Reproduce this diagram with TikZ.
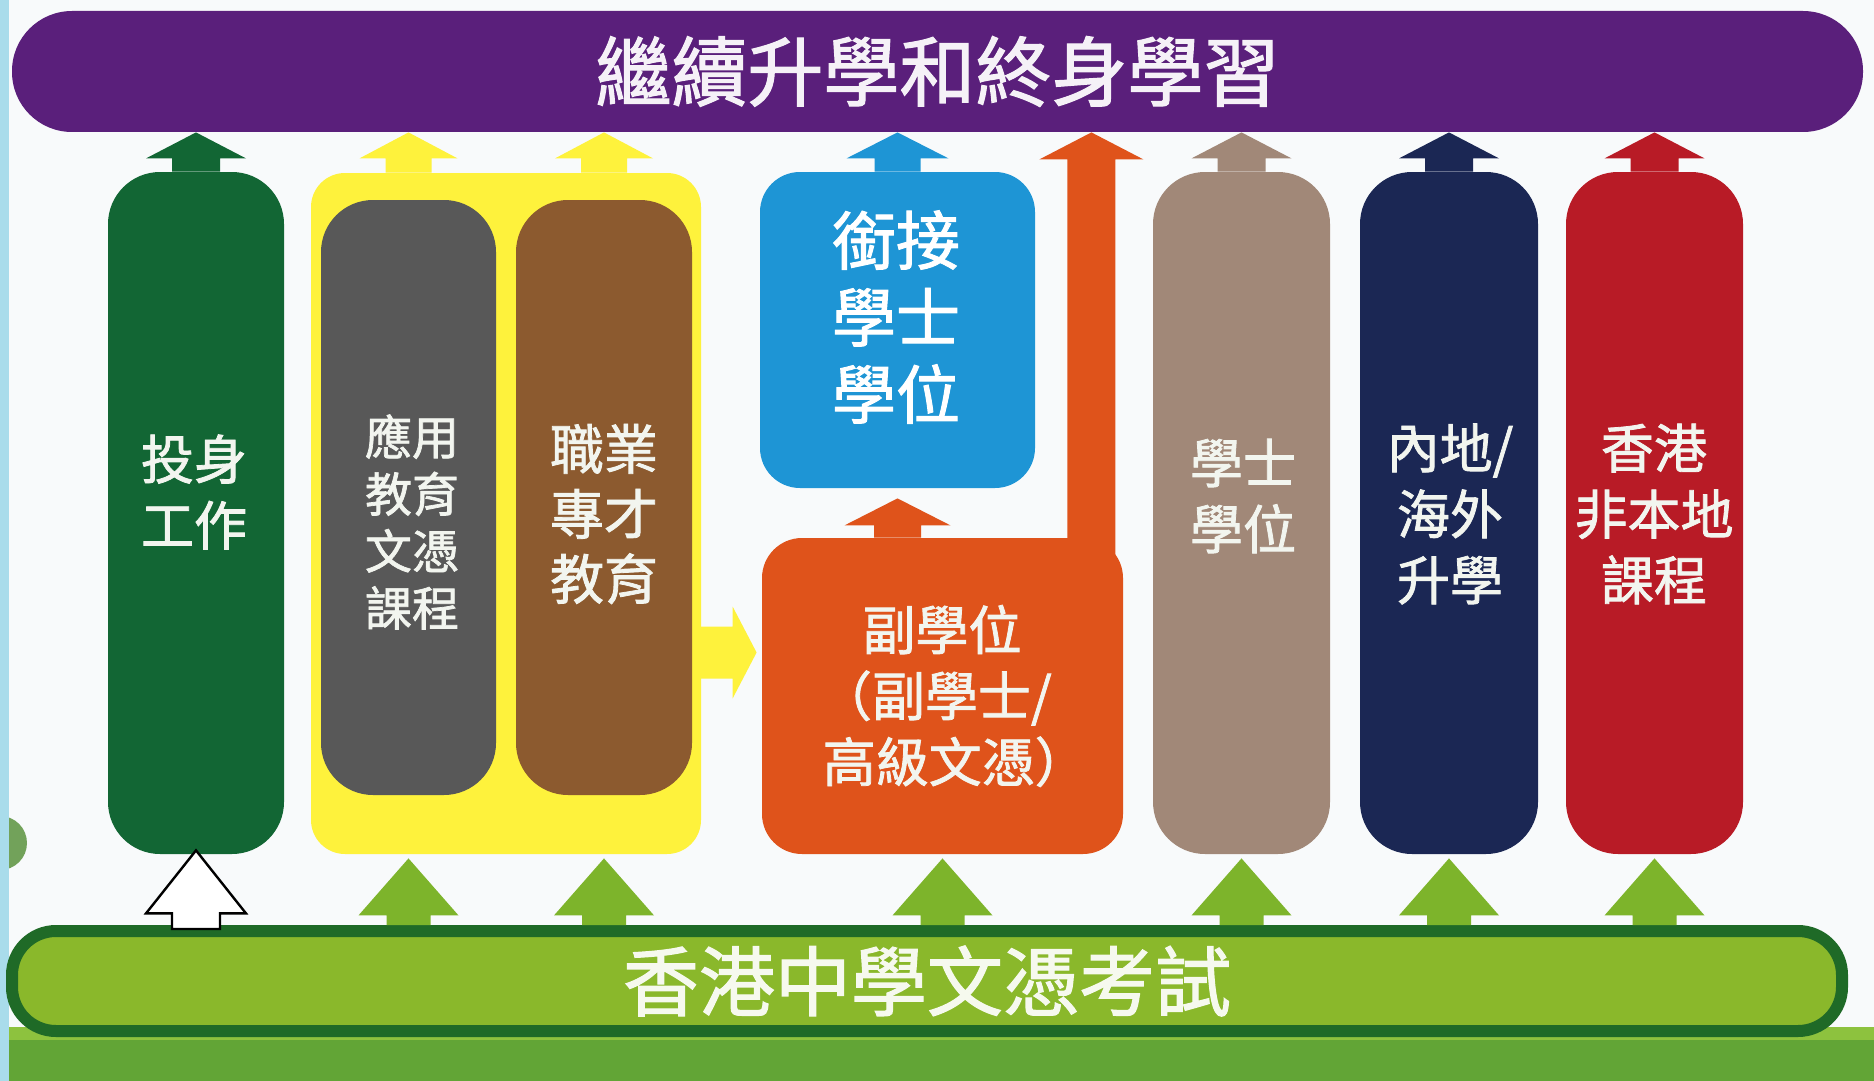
\documentclass[tikz,border=0pt]{standalone}
\usepackage{fontspec}
\setmainfont{Noto Sans CJK TC}
\newfontfamily\medfont{Noto Sans CJK TC}[FakeBold=1.5]
\usetikzlibrary{calc}
\definecolor{paper}{HTML}{F8FAFB}
\definecolor{stripblue}{HTML}{A9DCEB}
\definecolor{dotgreen}{HTML}{72A25A}
\definecolor{bandgreen}{HTML}{62A536}
\definecolor{bandlight}{HTML}{8DC23E}
\definecolor{goalpurple}{HTML}{5A1F7B}
\definecolor{dsefill}{HTML}{8AB82B}
\definecolor{dseline}{HTML}{1F6A27}
\definecolor{workgreen}{HTML}{126634}
\definecolor{aplyellow}{HTML}{FEF23C}
\definecolor{adgray}{HTML}{585858}
\definecolor{vpetbrown}{HTML}{8C5A2F}
\definecolor{topupblue}{HTML}{1E95D5}
\definecolor{subdegorange}{HTML}{DF531B}
\definecolor{degtan}{HTML}{A18878}
\definecolor{mainnavy}{HTML}{1B2754}
\definecolor{nonlocalred}{HTML}{B81B26}
\definecolor{upgreen}{HTML}{7DB42B}
\definecolor{tagwhite}{HTML}{F2F5EF}
\def\blockup[#1](#2)(#3)(#4:#5:#6){\path[#1] let \p1=(#2), \p2=(#3) in (\x1-#4,\y1) -- (\x1-#4,\y2-#6) -- (\x1-#5,\y2-#6) -- (\x1,\y2) -- (\x1+#5,\y2-#6) -- (\x1+#4,\y2-#6) -- (\x1+#4,\y1) -- cycle;}
\tikzset{
  pillar/.style={rectangle, rounded corners=26pt, minimum width=88pt, minimum height=341pt, inner sep=0pt},
  tag/.style={inner sep=0pt, align=center, text=tagwhite, font=\medfont\fontsize{26.5}{33}\selectfont},
}

\begin{document}
\begin{tikzpicture}[x=0.5pt,y=-0.5pt]
		%%%%% START %%%%%
		\useasboundingbox (0,0) rectangle (1874,1081);
		\fill[paper] (0,0) rectangle (1874,1081);
		\fill[dotgreen] (0,843) circle (13.5pt);
		\fill[stripblue] (0,0) rectangle (9,1081);
		\fill[bandlight] (9,1027) rectangle (1874,1040);
		\fill[bandgreen] (9,1040) rectangle (1874,1081);
		
		% top and bottom bars
		\node[fill=goalpurple, rounded corners=30pt, minimum width=925.5pt, minimum height=60.5pt, inner sep=0pt, text=white!94!goalpurple, font=\medfont\fontsize{38}{38}\selectfont] (goal) at (937.5,71.5) {繼續升學和終身學習};
		\node[fill=dsefill, draw=dseline, line width=6pt, rounded corners=22pt, minimum width=915pt, minimum height=50pt, inner sep=0pt, text=white!92!dsefill, font=\medfont\fontsize{38}{38}\selectfont] (dse) at (927,981) {香港中學文憑考試};
		
		% pillars
		\node[pillar, fill=workgreen] (work) at (196,513) {};
		\node[tag] (worktxt) at (194,492) {投身\\工作};
		
		\node[rectangle, rounded corners=17pt, minimum width=195pt, minimum height=340.5pt, inner sep=0pt, fill=aplyellow] (apl) at (506,513.5) {};
		\node[pillar, minimum width=87.5pt, minimum height=297.5pt, fill=adgray] (ad) at (408.5,497.5) {};
		\node[tag, font=\medfont\fontsize{23.5}{28.5}\selectfont] (adtxt) at (412,522) {應用\\教育\\文憑\\課程};
		\node[pillar, minimum height=297.5pt, fill=vpetbrown] (vpet) at (604,497.5) {};
		\node[tag, font=\medfont\fontsize{27}{32.5}\selectfont] (vpettxt) at (604,514) {職業\\專才\\教育};
		
		\node[rectangle, rounded corners=20pt, minimum width=137.5pt, minimum height=158pt, inner sep=0pt, fill=topupblue] (topup) at (897.5,330) {};
		\node[tag, text=white, font=\medfont\fontsize{32}{38.5}\selectfont] (topuptxt) at (896,317) {銜接\\學士\\學位};
		\node[rectangle, rounded corners=20pt, minimum width=180.5pt, minimum height=158pt, inner sep=0pt, fill=subdegorange] (subdeg) at (942.5,696) {};
		\node[tag] (subdegtxt) at (942,696) {副學位\\\makebox[0.75em][r]{（}副學士/\\高級文憑\makebox[0.5em][l]{）}};
		
		\node[pillar, minimum width=88.5pt, fill=degtan] (deg) at (1241.5,513) {};
		\node[tag] (degtxt) at (1243,496) {學士\\學位};
		\node[pillar, minimum width=89pt, fill=mainnavy] (mainland) at (1449,513) {};
		\node[tag] (mainlandtxt) at (1450,514) {內地/\\海外\\升學};
		\node[pillar, minimum width=88.5pt, fill=nonlocalred] (nonlocal) at (1654.5,513) {};
		\node[tag] (nonlocaltxt) at (1654,514) {香港\\非本地\\課程};
		
		% arrows up to the top bar
		\blockup[fill=workgreen](work.north)(goal.south)(12pt:25pt:13pt)
		\blockup[fill=aplyellow](ad |- apl.north)(goal.south)(11.5pt:24.5pt:13pt)
		\blockup[fill=aplyellow](vpet |- apl.north)(goal.south)(11.5pt:24.5pt:13pt)
		\blockup[fill=topupblue](topup.north)(goal.south)(11.5pt:25.5pt:13pt)
		\blockup[fill=subdegorange]([xshift=-16pt,yshift=-20pt]subdeg.north east)(goal.south)(12pt:26pt:13.5pt)
		\blockup[fill=degtan](deg.north)(goal.south)(12pt:25pt:13pt)
		\blockup[fill=mainnavy](mainland.north)(goal.south)(12pt:25pt:13pt)
		\blockup[fill=nonlocalred](nonlocal.north)(goal.south)(12pt:25pt:13pt)
		
		% sub-degree to top-up, applied learning to sub-degree
		\blockup[fill=subdegorange](topup |- subdeg.north)([yshift=-5pt]topup.south)(11.75pt:26.5pt:13.5pt)
		\fill[aplyellow] let \p1=([xshift=-4pt,yshift=-69.5pt]apl.east), \p2=([xshift=-2.5pt]subdeg.west) in (\x1,\y1+13pt) -- (\x2-12pt,\y1+13pt) -- (\x2-12pt,\y1+23pt) -- (\x2,\y1) -- (\x2-12pt,\y1-23pt) -- (\x2-12pt,\y1-13pt) -- (\x1,\y1-13pt) -- cycle;
		
		% arrows up from the exam
		\blockup[fill=white, draw=black, line width=1.2pt]([yshift=-2pt]work |- dse.north)([yshift=2pt]work.south)(12pt:25pt:31.5pt)
		\blockup[fill=upgreen](ad |- dse.north)([yshift=-2pt]ad |- apl.south)(11pt:25pt:28.5pt)
		\blockup[fill=upgreen](vpet |- dse.north)([yshift=-2pt]vpet |- apl.south)(11pt:25pt:28.5pt)
		\blockup[fill=upgreen](subdeg |- dse.north)([yshift=-2pt]subdeg.south)(11pt:25pt:28.5pt)
		\blockup[fill=upgreen](deg |- dse.north)([yshift=-2pt]deg.south)(11pt:25pt:28.5pt)
		\blockup[fill=upgreen](mainland |- dse.north)([yshift=-2pt]mainland.south)(11pt:25pt:28.5pt)
		\blockup[fill=upgreen](nonlocal |- dse.north)([yshift=-2pt]nonlocal.south)(11pt:25pt:28.5pt)
		%%%%% END %%%%%
\end{tikzpicture}
\end{document}
